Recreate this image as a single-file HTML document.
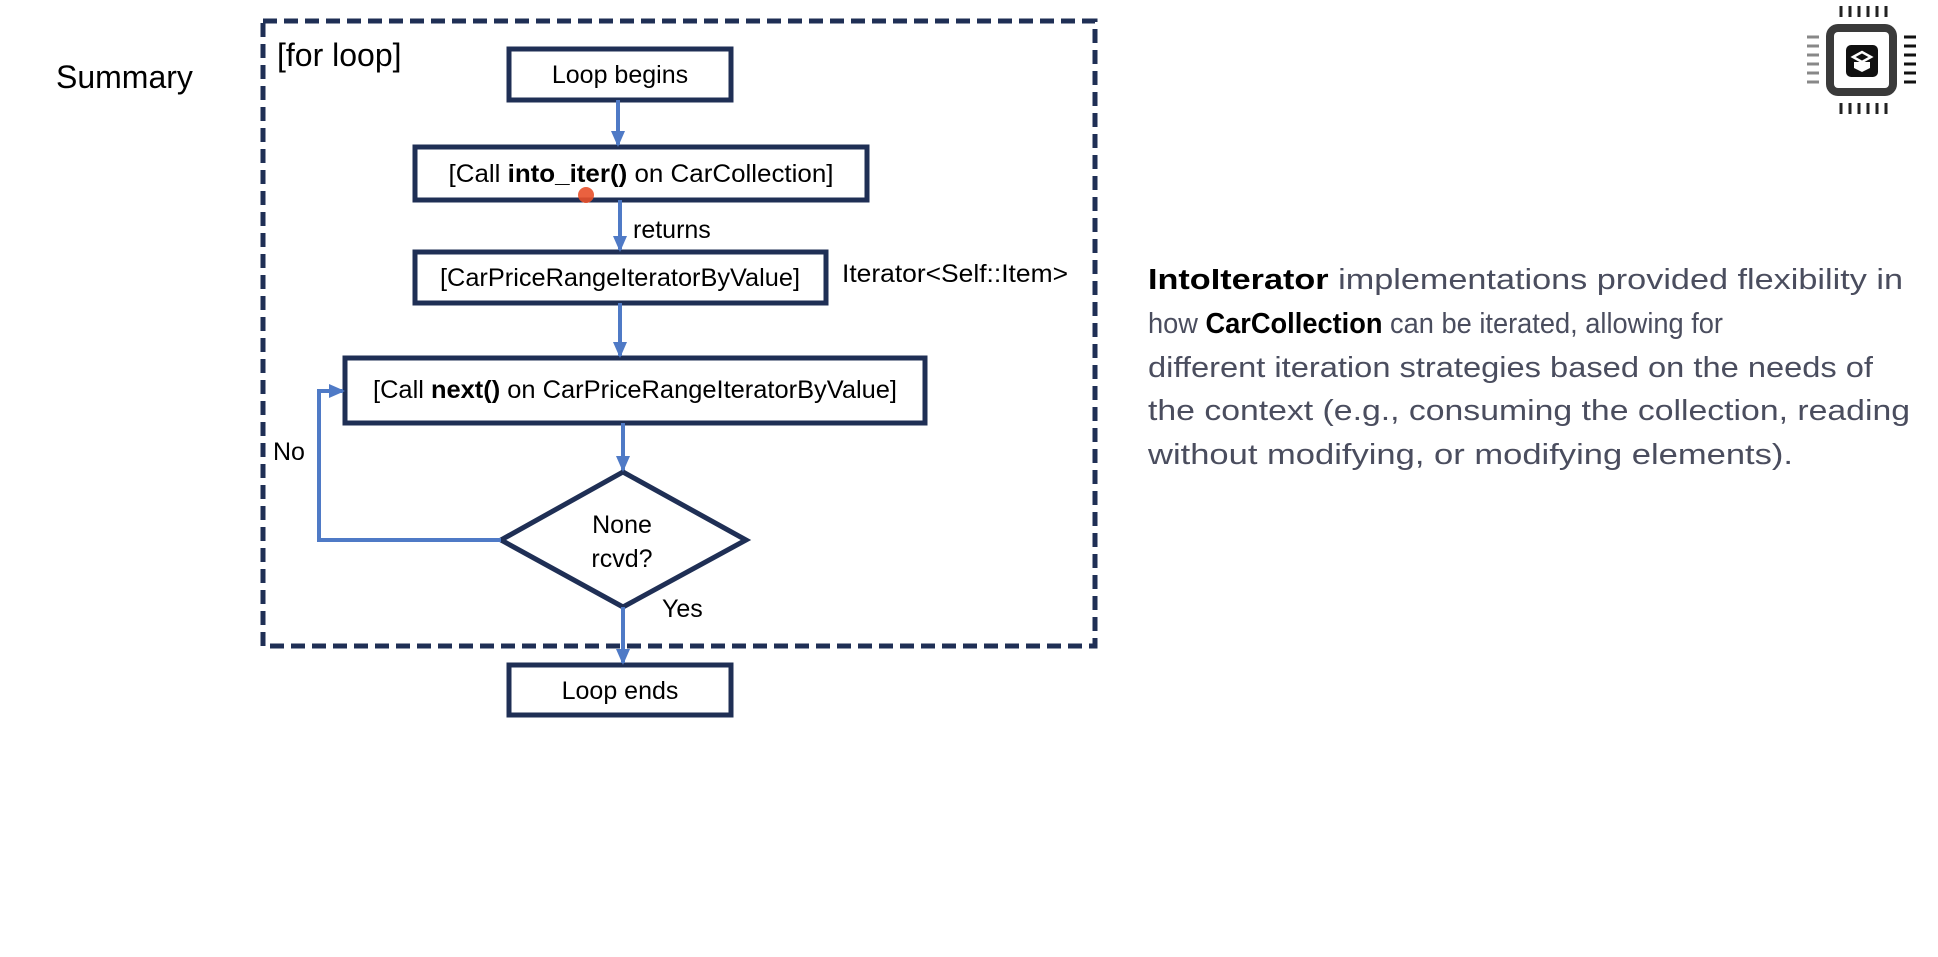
<!DOCTYPE html>
<html><head><style>
html,body{margin:0;padding:0;background:#fff;width:1938px;height:957px;overflow:hidden}
svg{display:block}
</style></head><body>
<svg width="1938" height="957" viewBox="0 0 1938 957" xmlns="http://www.w3.org/2000/svg" font-family="Liberation Sans, sans-serif">
<defs>
<marker id="ah" markerWidth="16" markerHeight="16" refX="14" refY="8" orient="auto" markerUnits="userSpaceOnUse" viewBox="0 0 16 16">
<path d="M0,1 L16,8 L0,15 z" fill="#4f7ac6"/></marker>
</defs>
<text x="56" y="88" font-size="32" fill="#000">Summary</text>
<rect x="263" y="21" width="832" height="625" fill="none" stroke="#1f2f55" stroke-width="5" stroke-dasharray="14,7"/>
<text x="277" y="66" font-size="32" fill="#000">[for loop]</text>

<g stroke="#1f2f55" stroke-width="5" fill="#fff">
<rect x="509" y="49" width="222" height="51"/>
<rect x="415" y="147" width="452" height="53"/>
<rect x="415" y="252" width="411" height="51"/>
<rect x="345" y="358" width="580" height="65"/>
<polygon points="623,472 746,540 623,607 501,540"/>
<rect x="509" y="665" width="222" height="50"/>
</g>

<g stroke="#4f7ac6" stroke-width="4" fill="none">
<line x1="618" y1="100" x2="618" y2="145" marker-end="url(#ah)"/>
<line x1="620" y1="200" x2="620" y2="250" marker-end="url(#ah)"/>
<line x1="620" y1="303" x2="620" y2="356" marker-end="url(#ah)"/>
<line x1="623" y1="423" x2="623" y2="470" marker-end="url(#ah)"/>
<line x1="623" y1="607" x2="623" y2="663" marker-end="url(#ah)"/>
<polyline points="501,540 319,540 319,391 343,391" marker-end="url(#ah)"/>
</g>

<g font-size="25" fill="#000" text-anchor="middle">
<text x="620" y="83">Loop begins</text>
<text x="641" y="182" textLength="385" lengthAdjust="spacingAndGlyphs">[Call <tspan font-weight="bold">into_iter()</tspan> on CarCollection]</text>
<text x="620" y="286" textLength="360" lengthAdjust="spacingAndGlyphs">[CarPriceRangeIteratorByValue]</text>
<text x="635" y="398" textLength="524" lengthAdjust="spacingAndGlyphs">[Call <tspan font-weight="bold">next()</tspan> on CarPriceRangeIteratorByValue]</text>
<text x="622" y="533">None</text>
<text x="622" y="567">rcvd?</text>
<text x="620" y="699">Loop ends</text>
</g>
<g font-size="25" fill="#000">
<text x="633" y="238">returns</text>
<text x="842" y="282" textLength="226" lengthAdjust="spacingAndGlyphs">Iterator&lt;Self::Item&gt;</text>
<text x="273" y="460">No</text>
<text x="662" y="617">Yes</text>
</g>
<circle cx="586" cy="195" r="8" fill="#e8502a" opacity="0.9"/>

<g font-size="29" fill="#4a4d5e">
<text x="1148" y="289" textLength="755" lengthAdjust="spacingAndGlyphs"><tspan font-weight="bold" fill="#000">IntoIterator</tspan> implementations provided flexibility in</text>
<text x="1148" y="333" textLength="575" lengthAdjust="spacingAndGlyphs">how <tspan font-weight="bold" fill="#000">CarCollection</tspan> can be iterated, allowing for</text>
<text x="1148" y="377" textLength="725" lengthAdjust="spacingAndGlyphs">different iteration strategies based on the needs of</text>
<text x="1148" y="420" textLength="762" lengthAdjust="spacingAndGlyphs">the context (e.g., consuming the collection, reading</text>
<text x="1148" y="464" textLength="645" lengthAdjust="spacingAndGlyphs">without modifying, or modifying elements).</text>
</g>

<g>
<g stroke="#222" stroke-width="3">
<line x1="1841" y1="6" x2="1841" y2="17"/><line x1="1850" y1="6" x2="1850" y2="17"/><line x1="1859" y1="6" x2="1859" y2="17"/><line x1="1868" y1="6" x2="1868" y2="17"/><line x1="1877" y1="6" x2="1877" y2="17"/><line x1="1886" y1="6" x2="1886" y2="17"/>
<line x1="1841" y1="103" x2="1841" y2="114"/><line x1="1850" y1="103" x2="1850" y2="114"/><line x1="1859" y1="103" x2="1859" y2="114"/><line x1="1868" y1="103" x2="1868" y2="114"/><line x1="1877" y1="103" x2="1877" y2="114"/><line x1="1886" y1="103" x2="1886" y2="114"/>
</g>
<g stroke="#888" stroke-width="3">
<line x1="1807" y1="37" x2="1819" y2="37"/><line x1="1807" y1="46" x2="1819" y2="46"/><line x1="1807" y1="55" x2="1819" y2="55"/><line x1="1807" y1="64" x2="1819" y2="64"/><line x1="1807" y1="73" x2="1819" y2="73"/><line x1="1807" y1="82" x2="1819" y2="82"/>
</g>
<g stroke="#111" stroke-width="3">
<line x1="1904" y1="37" x2="1916" y2="37"/><line x1="1904" y1="46" x2="1916" y2="46"/><line x1="1904" y1="55" x2="1916" y2="55"/><line x1="1904" y1="64" x2="1916" y2="64"/><line x1="1904" y1="73" x2="1916" y2="73"/><line x1="1904" y1="82" x2="1916" y2="82"/>
</g>
<rect x="1826" y="24" width="71" height="72" rx="12" fill="#3a3a3a"/>
<rect x="1834" y="32" width="55" height="56" rx="4" fill="#fff"/>
<rect x="1846" y="45" width="32" height="32" rx="5" fill="#111"/>
<path d="M1853,57 L1862,52 L1871,57 L1862,62 Z" fill="none" stroke="#fff" stroke-width="2.5"/>
<path d="M1854,62 L1854,68 L1862,72 L1870,68 L1870,62" fill="#fff"/>
</g>
</svg>
</body></html>
